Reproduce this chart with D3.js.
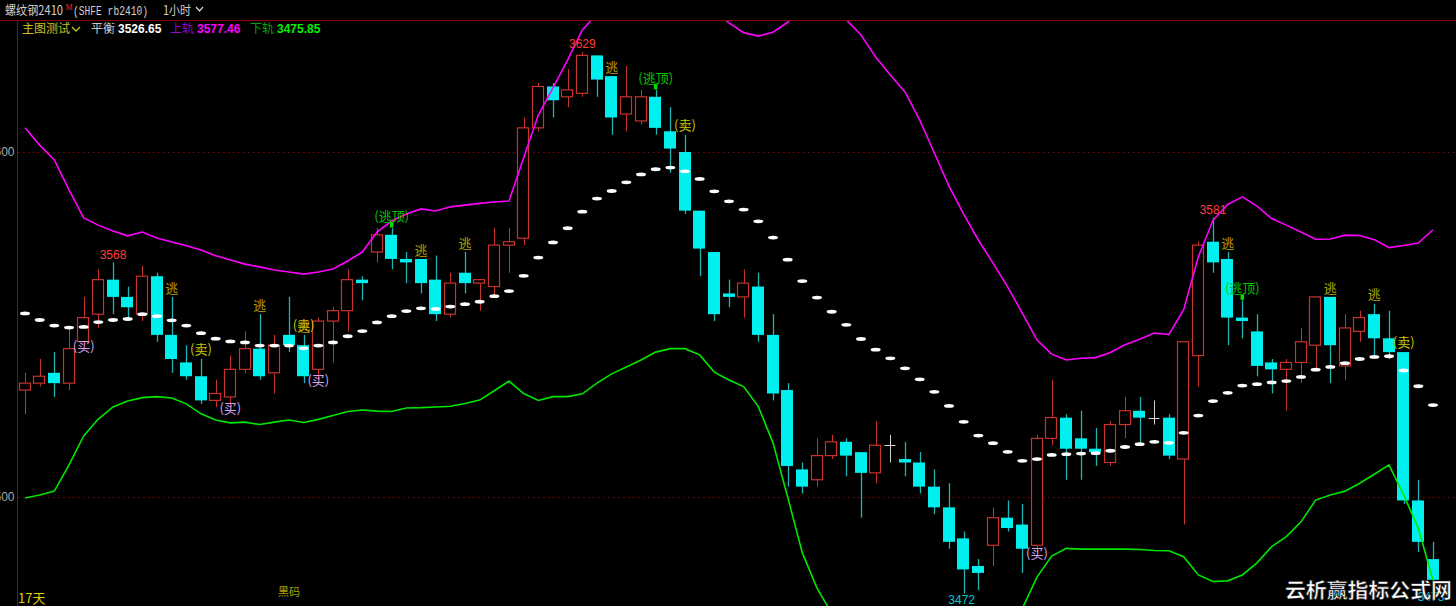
<!DOCTYPE html>
<html><head><meta charset="utf-8">
<script src="https://cdn.jsdelivr.net/npm/d3@7/dist/d3.min.js"></script>
<style>html,body{margin:0;padding:0;background:#000;overflow:hidden}</style>
</head><body>
<svg id="c" width="1456" height="606"></svg>
<script>
// ---- data (1-hour candles, 螺纹钢2410) ----
const opens=[3531,3533,3536,3533,3545,3553,3563,3558,3553,3564,3547,3539,3535,3528,3529,3537,3543,3536,3547,3544,
3537,3551,3554,3563,3571,3576,3569,3569,3563,3553,3565,3562,3561,3573,3575,3607,3619,3616,3617,3628,
3622,3611,3609,3616,3606,3600,3583,3571,3559,3558,3561,3547,3531,3508,3505,3512,3516,3513,3507,3515,
3511,3510,3503,3497,3488,3480,3486,3494,3492,3486,3517,3523,3517,3514,3510,3521,3525,3523,3523,3511,
3541,3574,3569,3552,3548,3539,3537,3539,3544,3558,3538,3548,3553,3546,3542,3499,3482];
const highs=[3536,3540,3542,3549,3558,3566,3568,3561,3567,3565,3558,3544,3540,3534,3541,3548,3553,3547,3558,3547,
3552,3555,3566,3564,3578,3578,3571,3569,3570,3565,3571,3563,3578,3578,3610,3620,3620,3624,3629,3628,
3622,3625,3618,3618,3613,3605,3583,3571,3563,3566,3565,3553,3533,3510,3517,3518,3517,3513,3522,3518,
3516,3513,3508,3504,3490,3482,3497,3499,3498,3518,3534,3524,3525,3520,3522,3529,3529,3528,3524,3545,
3574,3581,3571,3557,3553,3540,3540,3549,3558,3558,3553,3554,3556,3554,3542,3505,3487];
const lows=[3524,3532,3529,3531,3544,3549,3553,3551,3551,3545,3536,3534,3527,3526,3526,3536,3534,3530,3542,3533,
3534,3539,3548,3557,3568,3566,3562,3559,3551,3552,3559,3554,3558,3565,3573,3606,3610,3613,3616,3616,
3605,3606,3608,3605,3594,3582,3564,3551,3555,3552,3545,3528,3503,3501,3503,3511,3506,3494,3504,3510,
3506,3501,3495,3485,3472,3473,3480,3490,3478,3484,3515,3505,3505,3509,3509,3517,3515,3521,3511,3492,
3532,3565,3544,3546,3535,3530,3525,3533,3537,3533,3534,3545,3541,3540,3498,3484,3473];
const closes=[3533,3535,3533,3543,3552,3563,3558,3555,3564,3547,3540,3535,3528,3530,3537,3543,3535,3544,3544,3535,
3551,3554,3563,3562,3576,3569,3568,3562,3553,3562,3562,3563,3573,3574,3607,3619,3615,3618,3628,3621,
3610,3616,3616,3607,3601,3583,3572,3553,3558,3562,3547,3530,3509,3503,3512,3516,3512,3507,3515,3515,
3510,3503,3497,3487,3479,3478,3494,3491,3485,3517,3523,3514,3514,3513,3521,3525,3523,3523,3512,3545,
3573,3568,3552,3551,3538,3537,3539,3545,3558,3544,3549,3552,3546,3542,3499,3487,3476];
// 平衡 (middle line), 上轨, 下轨
const mids=[3553.2,3551.3,3549.7,3549.1,3549.3,3550.7,3551.3,3551.6,3553.0,3552.4,
3551.2,3549.7,3547.5,3545.9,3545.1,3544.8,3543.9,3543.9,3543.9,3543.1,
3543.9,3544.8,3546.6,3548.1,3550.6,3552.4,3553.9,3554.7,3554.5,3555.2,
3555.9,3556.6,3558.2,3559.7,3564.1,3569.4,3573.8,3577.9,3582.7,3586.5,
3588.7,3591.2,3593.5,3595.0,3595.5,3594.4,3592.2,3588.6,3585.7,3583.3,
3579.9,3575.2,3568.8,3562.6,3557.8,3553.7,3549.9,3545.8,3542.7,3540.2,
3537.3,3534.1,3530.5,3526.4,3521.8,3517.8,3515.6,3513.1,3510.5,3511.0,
3512.2,3512.4,3512.6,3512.7,3513.4,3514.5,3515.3,3516.0,3515.7,3518.6,
3523.6,3527.8,3530.2,3532.3,3532.7,3533.2,3533.6,3534.8,3536.9,3537.7,
3538.8,3540.0,3540.6,3540.8,3536.7,3532.1,3526.65];
const uppers=[3607.0,3602.0,3597.7,3589.0,3580.9,3578.8,3577.1,3575.7,3576.8,3575.1,
3573.9,3572.8,3571.6,3569.9,3568.7,3567.5,3566.7,3565.8,3565.2,3564.6,
3565.2,3566.1,3568.4,3571.0,3576.8,3580.0,3582.0,3583.5,3582.9,3584.1,
3584.6,3585.1,3585.5,3585.8,3598.3,3610.7,3618.6,3626.7,3635.4,3640.0,
3641.7,3644.6,3647.3,3647.8,3647.8,3645.7,3643.2,3640.9,3637.4,3634.6,
3633.6,3634.7,3637.6,3641.5,3641.9,3641.2,3638.3,3633.9,3627.5,3622.3,
3617.4,3609.3,3599.7,3590.1,3582.0,3574.5,3567.8,3560.9,3553.3,3545.5,
3541.4,3539.7,3540.2,3540.4,3541.9,3544.1,3545.7,3547.5,3547.1,3554.3,
3569.6,3580.2,3584.8,3587.0,3584.3,3580.7,3578.8,3576.8,3574.7,3574.8,
3575.9,3575.8,3574.6,3572.3,3572.9,3573.6,3577.46];
const lowers=[3499.7,3500.6,3501.7,3509.3,3517.7,3522.6,3526.1,3527.8,3528.8,3529.1,
3528.7,3527.0,3524.1,3522.3,3521.5,3521.7,3521.0,3521.7,3522.3,3521.6,
3522.5,3523.6,3524.8,3525.2,3524.9,3524.8,3525.8,3525.9,3526.1,3526.3,
3527.1,3528.1,3530.8,3533.6,3530.0,3528.0,3529.1,3529.1,3529.9,3533.0,
3535.7,3537.7,3539.7,3542.0,3543.0,3543.0,3541.2,3536.2,3533.9,3532.0,
3526.2,3515.7,3500.0,3483.8,3473.6,3466.3,3461.5,3457.7,3457.9,3458.1,
3457.2,3459.0,3461.3,3462.6,3461.6,3461.0,3463.3,3465.4,3467.7,3476.8,
3482.9,3485.1,3484.9,3484.9,3484.9,3484.9,3484.8,3484.5,3484.4,3482.7,
3477.4,3475.5,3475.7,3477.4,3480.9,3485.6,3488.5,3492.8,3499.1,3500.6,
3501.7,3504.0,3506.6,3509.3,3500.6,3490.9,3475.85];
const yTicks=[3500,3600];
const peakIdx=[6,38,81];
const troughIdx=[64,96];
const topSigIdx=[10,12,16,19,19,25,27,30,40,43,45,82,83,89,92,94];
const topSigText=['逃','(卖)','逃','(卖)','逃','(逃顶)','逃','逃','逃','(逃顶)','(卖)','逃','(逃顶)','逃','逃','(卖)'];
const buySigIdx=[4,14,20,69];
const topMarkIdx=[25,43,83];

(function(){
const W=1456,H=606, axisX=17.5;
const N=opens.length;
const svg=d3.select('#c');
svg.append('rect').attr('width',W).attr('height',H).attr('fill','#000');
const x=d3.scaleBand().domain(d3.range(N)).range([17.67,1440.33]).paddingInner(0.15).paddingOuter(0.075);
const bw=x.bandwidth();
const cx=i=>x(i)+bw/2;
const y=d3.scaleLinear().domain([3500,3600]).range([497,152]);

svg.append('defs').append('clipPath').attr('id','plot')
  .append('rect').attr('x',18).attr('y',21).attr('width',W-18).attr('height',H-21);

svg.append('line').attr('x1',0).attr('x2',W).attr('y1',20.5).attr('y2',20.5).attr('stroke','#8a0000');
svg.append('line').attr('x1',axisX).attr('x2',axisX).attr('y1',20.5).attr('y2',H).attr('stroke','#a00000');
svg.selectAll('.grid').data(yTicks).enter().append('line')
  .attr('x1',18).attr('x2',W).attr('y1',d=>Math.round(y(d))+0.5).attr('y2',d=>Math.round(y(d))+0.5)
  .attr('stroke','#8a0000').attr('stroke-dasharray','1.5,3.5');
const ax=svg.append('g').attr('transform',`translate(${axisX},0)`)
  .call(d3.axisLeft(y).tickValues(yTicks).tickSize(0).tickPadding(3).tickFormat(d3.format('d')));
ax.select('.domain').remove();
ax.selectAll('text').attr('fill','#a8a8a8').attr('font-size','12px').attr('font-family','Liberation Sans, Arial, sans-serif');

const g=svg.append('g').attr('clip-path','url(#plot)');
const RED='#c8322d', CY='#00f0f0', CYW='#1fb3b3';
d3.range(N).forEach(i=>{
  const o=opens[i],c=closes[i],h=highs[i],l=lows[i];
  const xc=Math.round(cx(i))+0.5, x0=Math.round(x(i))+0.5, w=Math.round(bw)-1;
  if(c>o){
    g.append('line').attr('x1',xc).attr('x2',xc).attr('y1',y(h)).attr('y2',y(c)).attr('stroke',RED);
    g.append('line').attr('x1',xc).attr('x2',xc).attr('y1',y(o)).attr('y2',y(l)).attr('stroke',RED);
    g.append('rect').attr('x',x0).attr('y',y(c)).attr('width',w).attr('height',y(o)-y(c))
      .attr('fill','#000').attr('stroke',RED).attr('stroke-width',1.2);
  } else if(c<o){
    g.append('line').attr('x1',xc).attr('x2',xc).attr('y1',y(h)).attr('y2',y(l)).attr('stroke',CYW).attr('stroke-width',1.3);
    g.append('rect').attr('x',x0-0.5).attr('y',y(o)).attr('width',w+1).attr('height',Math.max(2,y(c)-y(o)))
      .attr('fill',CY);
  } else {
    g.append('line').attr('x1',xc).attr('x2',xc).attr('y1',y(h)).attr('y2',y(l)).attr('stroke','#d0d0d0');
    g.append('line').attr('x1',x0).attr('x2',x0+w).attr('y1',Math.round(y(o))+0.5).attr('y2',Math.round(y(o))+0.5).attr('stroke','#d0d0d0');
  }
});
const line=arr=>d3.line().x((d,i)=>cx(i)).y(d=>y(d))(arr);
g.append('path').attr('d',line(uppers)).attr('fill','none').attr('stroke','#ff00ff').attr('stroke-width',1.6);
g.append('path').attr('d',line(lowers)).attr('fill','none').attr('stroke','#00e600').attr('stroke-width',1.6);
g.selectAll('.mid').data(mids).enter().append('ellipse')
  .attr('cx',(d,i)=>cx(i)).attr('cy',d=>y(d)).attr('rx',5).attr('ry',1.9).attr('fill','#ffffff');
g.selectAll('.mk').data(topMarkIdx).enter().append('rect')
  .attr('x',i=>cx(i)-1.8).attr('y',i=>y(highs[i])-6).attr('width',3.6).attr('height',5.5).attr('fill','#00e000');

const cjk='"Noto Sans CJK SC", sans-serif';
topSigIdx.forEach((i,k)=>{
  const t=topSigText[k];
  const isTop=t==='(逃顶)', isSell=t==='(卖)';
  const col=isTop?'#00c400':(isSell?'#c8c800':'#b4a000');
  const off=isTop?12:(isSell?9.5:9);
  g.append('text').attr('x',cx(i)).attr('y',y(highs[i])-off).attr('dy','0.36em')
    .attr('text-anchor','middle').attr('font-family',cjk).attr('font-size','13px').attr('fill',col).text(t);
});
buySigIdx.forEach(i=>{
  g.append('text').attr('x',cx(i)).attr('y',y(lows[i])+1).attr('dy','0.36em')
    .attr('text-anchor','middle').attr('font-family',cjk).attr('font-size','13px').attr('fill','#d4a4f0').text('(买)');
});
peakIdx.forEach(i=>{
  g.append('text').attr('x',cx(i)).attr('y',y(highs[i])-8).attr('dy','0.36em').attr('text-anchor','middle')
    .attr('font-family','Liberation Sans, Arial, sans-serif').attr('font-size','12px').attr('fill','#ff3c3c').text(highs[i]);
});
troughIdx.forEach(i=>{
  g.append('text').attr('x',cx(i)-2).attr('y',y(lows[i])+6.5).attr('dy','0.36em').attr('text-anchor','middle')
    .attr('font-family','Liberation Sans, Arial, sans-serif').attr('font-size','12px').attr('fill','#00c8dc').text(lows[i]);
});

const hd=svg.append('g');
hd.append('text').attr('x',5).attr('y',15).attr('font-family',cjk).attr('font-size','12.5px')
  .attr('textLength',58).attr('lengthAdjust','spacingAndGlyphs').attr('fill','#d0d0d0').text('螺纹钢2410');
hd.append('text').attr('x',65.5).attr('y',10).attr('font-family','Liberation Serif, serif').attr('font-size','8px').attr('fill','#ff2020').text('M');
hd.append('text').attr('x',73).attr('y',15).attr('font-family','Liberation Mono, monospace').attr('font-size','12.5px')
  .attr('textLength',75).attr('lengthAdjust','spacingAndGlyphs').attr('fill','#d0d0d0').text('(SHFE rb2410)');
hd.append('text').attr('x',163).attr('y',15).attr('font-family',cjk).attr('font-size','12.5px')
  .attr('textLength',28).attr('lengthAdjust','spacingAndGlyphs').attr('fill','#d0d0d0').text('1小时');
hd.append('path').attr('d','M196,7 L199.5,11 L203,7').attr('fill','none').attr('stroke','#d0d0d0').attr('stroke-width',1.3);
hd.append('text').attr('x',22).attr('y',33).attr('font-family',cjk).attr('font-size','12px').attr('fill','#c8c020').text('主图测试');
hd.append('path').attr('d','M72,27 L76,31 L80,27').attr('fill','none').attr('stroke','#c8c020').attr('stroke-width',1.3);
hd.append('text').attr('x',91).attr('y',33).attr('font-family',cjk).attr('font-size','12px').attr('fill','#c8c8c8').text('平衡');
hd.append('text').attr('x',118).attr('y',33).attr('font-family','Liberation Sans, Arial, sans-serif').attr('font-weight','bold').attr('font-size','12px').attr('fill','#ffffff').text(mids[N-1].toFixed(2));
hd.append('text').attr('x',170).attr('y',33).attr('font-family',cjk).attr('font-size','12px').attr('fill','#9a00c8').text('上轨');
hd.append('text').attr('x',197).attr('y',33).attr('font-family','Liberation Sans, Arial, sans-serif').attr('font-weight','bold').attr('font-size','12px').attr('fill','#ff00ff').text(uppers[N-1].toFixed(2));
hd.append('text').attr('x',250).attr('y',33).attr('font-family',cjk).attr('font-size','12px').attr('fill','#00a800').text('下轨');
hd.append('text').attr('x',277).attr('y',33).attr('font-family','Liberation Sans, Arial, sans-serif').attr('font-weight','bold').attr('font-size','12px').attr('fill','#00f000').text(lowers[N-1].toFixed(2));
svg.append('text').attr('x',18).attr('y',603).attr('font-family',cjk).attr('font-size','13px').attr('fill','#e0d000').text('17天');
svg.append('text').attr('x',278).attr('y',596).attr('font-family',cjk).attr('font-size','11px').attr('fill','#a8a000').text('黑码');
svg.append('text').attr('x',1285).attr('y',598).attr('font-family',cjk).attr('font-weight','bold').attr('font-size','20px')
  .attr('fill','#ffffff').attr('stroke','#222').attr('stroke-width',0.6).attr('textLength',167).attr('lengthAdjust','spacingAndGlyphs').text('云析赢指标公式网');
})();
</script>
</body></html>
